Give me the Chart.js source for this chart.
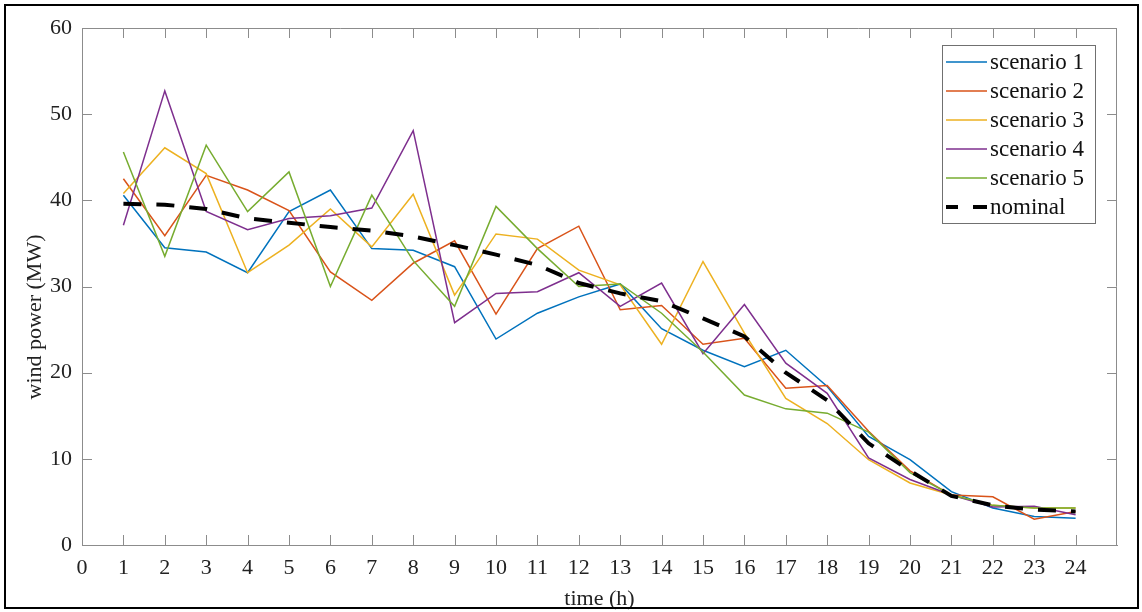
<!DOCTYPE html>
<html>
<head>
<meta charset="utf-8">
<script src="https://cdn.jsdelivr.net/npm/chart.js@4.4.0/dist/chart.umd.min.js"></script>
<style>
  html, body { margin: 0; padding: 0; background: #fff; }
</style>
</head>
<body>
<canvas id="grafico" width="1142" height="612"></canvas>
<script>
// Dados
const horas = [1, 2, 3, 4, 5, 6, 7, 8, 9, 10, 11, 12, 13, 14, 15, 16, 17, 18, 19, 20, 21, 22, 23, 24];
const cenario1 = [40.6, 34.5, 34.0, 31.6, 38.7, 41.2, 34.4, 34.2, 32.3, 23.9, 26.9, 28.8, 30.3, 25.1, 22.6, 20.7, 22.6, 18.4, 12.6, 9.9, 6.2, 4.3, 3.3, 3.1];
const cenario2 = [42.5, 35.9, 42.9, 41.2, 38.8, 31.7, 28.4, 32.7, 35.3, 26.8, 34.4, 37.0, 27.3, 27.8, 23.3, 24.0, 18.2, 18.5, 13.2, 8.6, 5.8, 5.6, 3.0, 3.9];
const cenario3 = [40.8, 46.1, 43.1, 31.6, 34.8, 39.0, 34.6, 40.7, 29.0, 36.1, 35.5, 31.9, 30.2, 23.3, 32.9, 24.6, 17.0, 14.1, 9.9, 7.2, 5.8, 4.6, 4.3, 4.3];
const cenario4 = [37.1, 52.7, 38.7, 36.6, 37.9, 38.2, 39.1, 48.1, 25.8, 29.2, 29.4, 31.6, 27.7, 30.4, 22.2, 27.9, 21.1, 17.6, 10.1, 7.6, 5.8, 4.4, 4.5, 3.5];
const cenario5 = [45.6, 33.5, 46.4, 38.7, 43.3, 30.0, 40.6, 33.0, 27.7, 39.3, 34.4, 30.0, 30.3, 26.9, 22.4, 17.4, 15.8, 15.3, 13.1, 8.4, 5.8, 4.6, 4.3, 4.3];
const nominal = [39.6, 39.5, 39.0, 37.9, 37.4, 36.9, 36.5, 35.8, 34.8, 33.7, 32.5, 30.4, 29.2, 28.3, 26.3, 24.2, 20.0, 16.8, 11.8, 8.6, 5.7, 4.6, 4.1, 3.9];
const rotulosSeries = ['scenario 1', 'scenario 2', 'scenario 3', 'scenario 4', 'scenario 5', 'nominal'];
const coresSeries = ['#0072BD', '#D95319', '#EDB120', '#7E2F8E', '#77AC30', '#000000'];
const tituloY = 'wind power (MW)';
const tituloX = 'time (h)';

const FONTE = "'Liberation Serif', 'Times New Roman', serif";
const CINZA = '#8c8c8c';

function pontos(valores) {
    return valores.map((v, i) => ({ x: horas[i], y: v }));
}

const serieValores = [cenario1, cenario2, cenario3, cenario4, cenario5];
const datasets = serieValores.map((valores, i) => ({
    label: rotulosSeries[i],
    data: pontos(valores),
    borderColor: coresSeries[i],
    borderWidth: 1.5,
    pointRadius: 0,
    tension: 0,
    fill: false,
    order: 6 - i
}));
datasets.push({
    label: rotulosSeries[5],
    data: pontos(nominal),
    borderColor: coresSeries[5],
    borderWidth: 4,
    borderDash: [18, 15],
    borderCapStyle: 'butt',
    pointRadius: 0,
    tension: 0,
    fill: false,
    order: 0
});

// Moldura, caixa dos eixos, ticks internos, título do eixo y e legenda
const molduraPlugin = {
    id: 'moldura',
    beforeDraw(chart) {
        const ctx = chart.ctx;
        ctx.save();
        ctx.fillStyle = '#fff';
        ctx.fillRect(0, 0, chart.width, chart.height);
        ctx.restore();
    },
    afterDraw(chart) {
        const ctx = chart.ctx;
        const area = chart.chartArea;
        const sx = chart.scales.x;
        const sy = chart.scales.y;
        ctx.save();

        // caixa
        ctx.strokeStyle = CINZA;
        ctx.lineWidth = 1;
        ctx.beginPath();
        ctx.moveTo(area.left, area.top + 0.5);
        ctx.lineTo(area.right, area.top + 0.5);
        ctx.moveTo(area.right - 0.5, area.top);
        ctx.lineTo(area.right - 0.5, area.bottom);
        ctx.stroke();

        // ticks para dentro
        ctx.beginPath();
        sx.ticks.forEach(t => {
            const px = Math.round(sx.getPixelForValue(t.value)) + 0.5;
            ctx.moveTo(px, area.bottom);
            ctx.lineTo(px, area.bottom - 10);
            ctx.moveTo(px, area.top);
            ctx.lineTo(px, area.top + 10);
        });
        sy.ticks.forEach(t => {
            const py = Math.round(sy.getPixelForValue(t.value)) + 0.5;
            ctx.moveTo(area.left, py);
            ctx.lineTo(area.left + 10, py);
            ctx.moveTo(area.right, py);
            ctx.lineTo(area.right - 10, py);
        });
        ctx.stroke();

        // título do eixo y (um pouco abaixo do centro, como no original)
        ctx.save();
        ctx.translate(35, 317);
        ctx.rotate(-Math.PI / 2);
        ctx.font = '22px ' + FONTE;
        ctx.fillStyle = '#222';
        ctx.textAlign = 'center';
        ctx.textBaseline = 'middle';
        ctx.fillText(tituloY, 0, 0);
        ctx.restore();

        // legenda
        const lx = 942, ly = 45, lw = 153, lh = 178;
        ctx.fillStyle = '#fff';
        ctx.fillRect(lx, ly, lw, lh);
        ctx.strokeStyle = '#707070';
        ctx.strokeRect(lx + 0.5, ly + 0.5, lw, lh);
        ctx.font = '23px ' + FONTE;
        ctx.textBaseline = 'middle';
        ctx.textAlign = 'left';
        chart.data.datasets.forEach((ds, i) => {
            const cy = 62 + i * 29;
            ctx.strokeStyle = ds.borderColor;
            ctx.lineWidth = ds.borderWidth;
            ctx.setLineDash(ds.borderDash ? ds.borderDash : []);
            ctx.lineDashOffset = ds.borderDash ? 6 : 0;
            ctx.beginPath();
            ctx.moveTo(946, cy);
            ctx.lineTo(987, cy);
            ctx.stroke();
            ctx.setLineDash([]);
            ctx.fillStyle = '#111';
            ctx.fillText(ds.label, 990, cy + 1);
        });

        // moldura externa
        ctx.strokeStyle = '#000';
        ctx.lineWidth = 2;
        ctx.strokeRect(5, 5, 1133, 603);
        ctx.restore();
    }
};

new Chart(document.getElementById('grafico'), {
    type: 'line',
    data: { datasets: datasets },
    options: {
        responsive: false,
        animation: false,
        layout: { padding: { top: 28, right: 25, left: 0, bottom: 0 } },
        plugins: {
            legend: { display: false },
            tooltip: { enabled: false }
        },
        scales: {
            x: {
                type: 'linear',
                min: 0,
                max: 25,
                afterBuildTicks: s => { s.ticks = s.ticks.filter(t => t.value <= 24); },
                afterFit: s => { s.height = 67; },
                grid: { display: false, drawTicks: false },
                border: { display: true, color: CINZA, width: 1 },
                ticks: {
                    stepSize: 1,
                    autoSkip: false,
                    maxRotation: 0,
                    padding: 10,
                    color: '#222',
                    font: { family: FONTE, size: 22 }
                },
                title: {
                    display: true,
                    text: tituloX,
                    color: '#222',
                    padding: { top: 0, bottom: 0 },
                    font: { family: FONTE, size: 22 }
                }
            },
            y: {
                min: 0,
                max: 60,
                afterFit: s => { s.width = 82; },
                grid: { display: false, drawTicks: false },
                border: { display: true, color: CINZA, width: 1 },
                ticks: {
                    stepSize: 10,
                    padding: 10,
                    color: '#222',
                    font: { family: FONTE, size: 22 }
                },
                title: { display: false }
            }
        }
    },
    plugins: [molduraPlugin]
});
</script>
</body>
</html>
